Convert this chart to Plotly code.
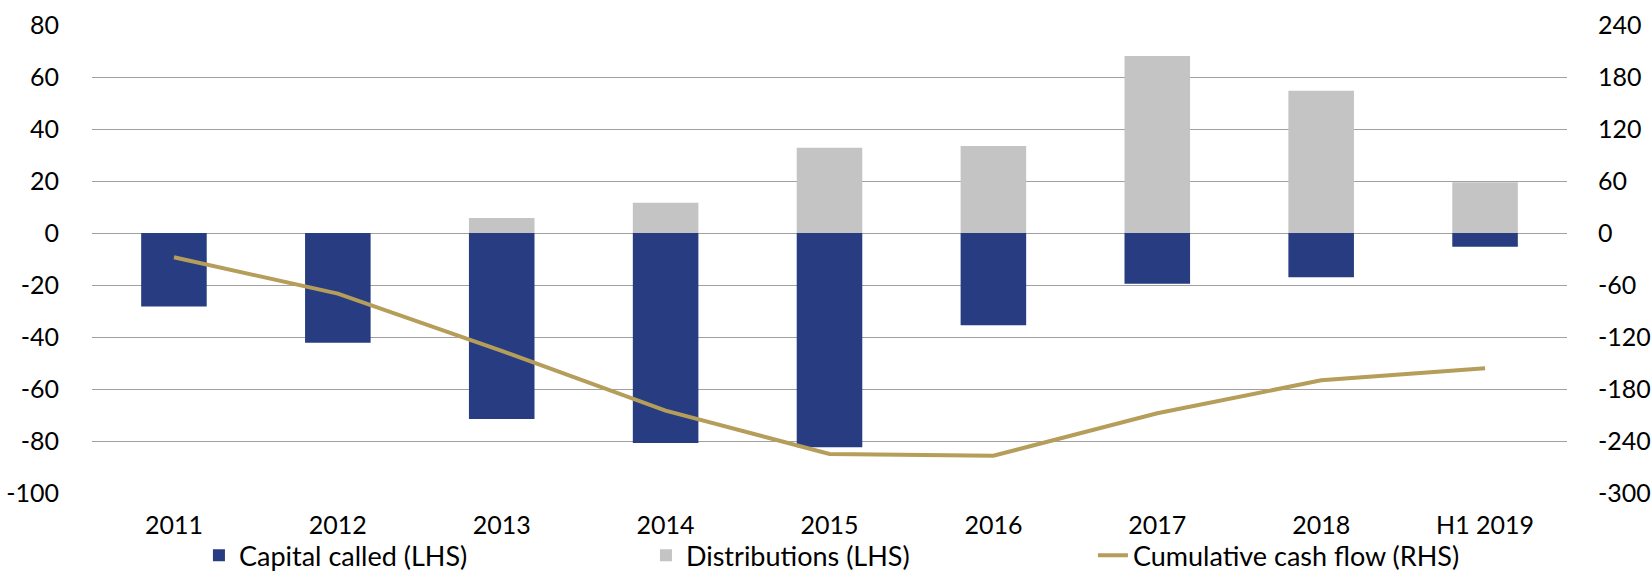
import plotly.graph_objects as go

categories = ["2011", "2012", "2013", "2014", "2015", "2016", "2017", "2018", "H1 2019"]
capital_called = [-28.3, -42.2, -71.5, -80.8, -82.4, -35.5, -19.5, -17.0, -5.3]
distributions = [0, 0, 5.8, 11.6, 32.8, 33.5, 68.1, 54.7, 19.5]
cumulative = [-28, -70, -136, -205, -255, -257, -208, -170, -156]

left_ticks = [-100, -80, -60, -40, -20, 0, 20, 40, 60, 80]
left_labels = ["-100", "-80", "-60", "-40", "-20", "0", "20", "40", "60", "80"]
right_ticks = [-300, -240, -180, -120, -60, 0, 60, 120, 180, 240]
right_labels = ["-300", "-240", "-180", "-120", "-60", "0", "60", "120", "180", "240"]

NAVY = "#283C82"
GREY = "#C4C4C4"
GOLD = "#B59D5A"
FONT = "Lato"
FS = 27      # legend
TFS = 25     # tick labels

fig = go.Figure()
fig.add_trace(go.Bar(x=categories, y=capital_called, name="Capital called (LHS)",
                     marker=dict(color=NAVY, line=dict(width=0))))
fig.add_trace(go.Bar(x=categories, y=distributions, name="Distributions (LHS)",
                     marker=dict(color=GREY, line=dict(width=0))))
fig.add_trace(go.Scatter(x=categories, y=cumulative, name="Cumulative cash flow (RHS)",
                         mode="lines", line=dict(color=GOLD, width=4), yaxis="y2"))

fig.update_layout(
    width=1652, height=574,
    margin=dict(l=92, r=85, t=25, b=81, autoexpand=False),
    paper_bgcolor="white", plot_bgcolor="white",
    barmode="relative", bargap=0.6,
    font=dict(family=FONT, size=FS, color="black"),
    xaxis=dict(type="category", showgrid=False, showline=False, zeroline=False,
               ticks="", tickfont=dict(size=TFS), ticklabelstandoff=15, automargin=False),
    yaxis=dict(range=[-100, 80], tickvals=left_ticks, ticktext=left_labels, showgrid=True,
               gridcolor="#A0A0A0", gridwidth=1.2, zeroline=True,
               zerolinecolor="#A0A0A0", zerolinewidth=1.2, showline=False,
               ticks="outside", ticklen=27, tickcolor="rgba(0,0,0,0)",
               tickfont=dict(size=TFS), automargin=False),
    yaxis2=dict(range=[-300, 240], tickvals=right_ticks, ticktext=right_labels,
                overlaying="y", side="right",
                showgrid=False, zeroline=False, showline=False,
                ticks="outside", ticklen=25, tickcolor="rgba(0,0,0,0)",
                tickfont=dict(size=TFS), automargin=False),
    legend=dict(orientation="h", x=0.0725, xanchor="left", y=-0.134, yanchor="middle",
                entrywidth=402, entrywidthmode="pixels", font=dict(size=FS),
                bgcolor="rgba(0,0,0,0)", traceorder="normal"),
    showlegend=True,
)

fig.write_html("out.html", config={"displayModeBar": False},
               post_script="document.body.style.margin='0';")
